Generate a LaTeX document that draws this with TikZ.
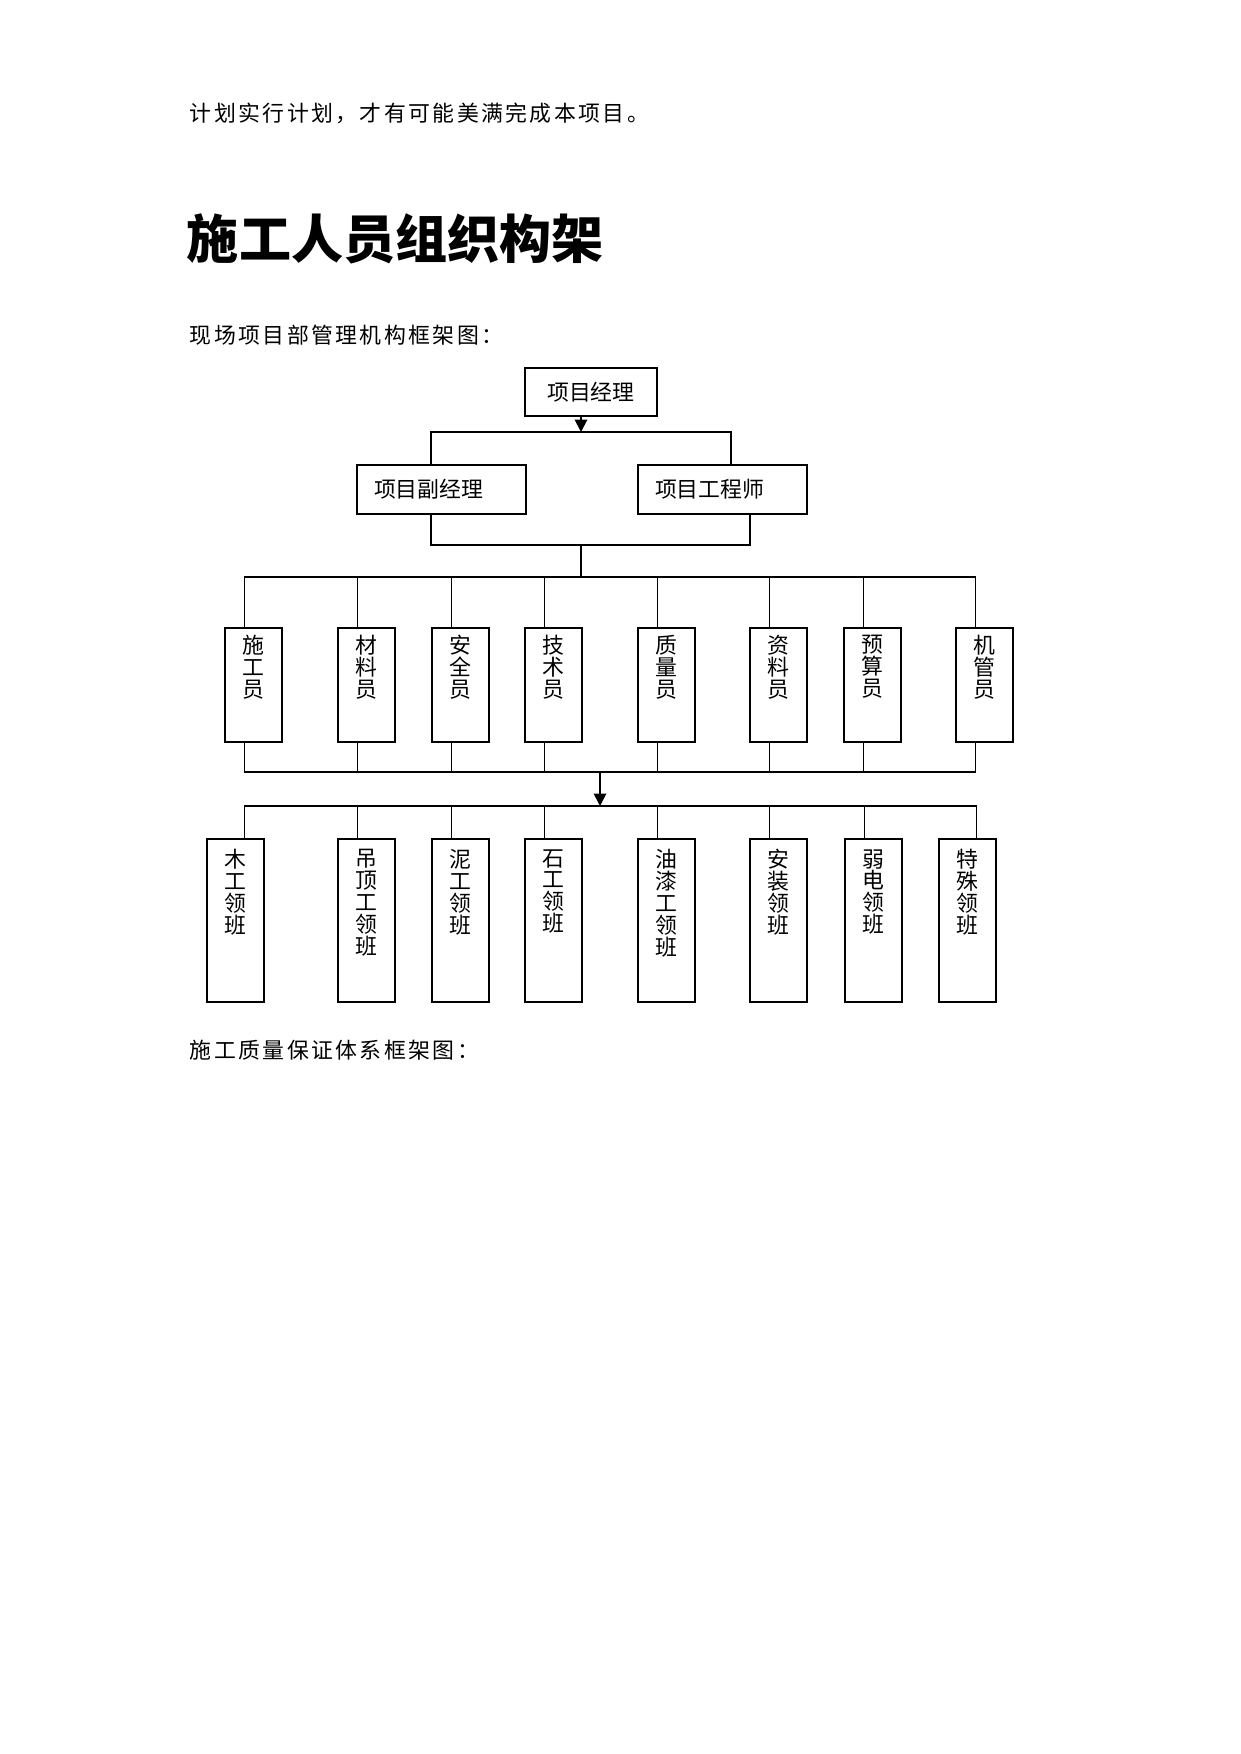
\documentclass[tikz,border=0pt]{standalone}
\usepackage{fontspec}
\newfontfamily\cjk{Noto Sans CJK SC}
\newfontfamily\txtfont{Noto Sans CJK SC}[LetterSpace=11]
\usetikzlibrary{positioning,arrows.meta}
\begin{document}
\begin{tikzpicture}[x=0.48pt,y=-0.48pt,line width=0.9pt,
    every node/.style={font=\cjk\fontsize{10.5}{10.5}\selectfont},
    para/.style={anchor=west,inner sep=0pt,font=\txtfont\fontsize{10.5}{12}\selectfont},
    head/.style={draw,minimum width=63.4pt,minimum height=23pt,anchor=north west},
    mgr/.style={draw,text width=64.7pt,inner xsep=8.2pt,minimum height=23.5pt,align=left,anchor=north west},
    post/.style={draw,minimum width=27.4pt,minimum height=54.7pt,anchor=north west},
    crew/.style={post,minimum height=78.2pt},
    vtxt/.style={align=center,inner sep=0pt},
    arr/.style={-{Triangle[length=6pt,width=6pt]}},
    faint/.style={line width=0.45pt}]
    \useasboundingbox (0,0) rectangle (1241,1754);
    % texts of the page
    \node[para] (intro) at (189,113) {计划实行计划，才有可能美满完成本项目。};
    \node[para,font=\cjk\bfseries\fontsize{25}{30}\selectfont] (title) at (186,239) {施工人员组织构架};
    \node[para] (cap1) at (189,335) {现场项目部管理机构框架图：};
    \node[para] (cap2) at (189,1050) {施工质量保证体系框架图：};

    % heads
    \node[head] (pm) at (524,367) {项目经理};
    \node[mgr] (dpm) at (356,464) {项目副经理};
    \node[mgr] (pe) at (637,464) {项目工程师};

    % posts
    \node[post] (sgy) at (224,627) {};
    \node[vtxt,below=3.5pt of sgy.north] (sgy-t) {施\\工\\员};
    \node[post] (cly) at (337,627) {};
    \node[vtxt,below=3.5pt of cly.north] (cly-t) {材\\料\\员};
    \node[post] (aqy) at (431,627) {};
    \node[vtxt,below=3.5pt of aqy.north] (aqy-t) {安\\全\\员};
    \node[post] (jsy) at (524,627) {};
    \node[vtxt,below=3.5pt of jsy.north] (jsy-t) {技\\术\\员};
    \node[post] (zly) at (637,627) {};
    \node[vtxt,below=3.5pt of zly.north] (zly-t) {质\\量\\员};
    \node[post] (zky) at (749,627) {};
    \node[vtxt,below=3.5pt of zky.north] (zky-t) {资\\料\\员};
    \node[post] (ysy) at (843,627) {};
    \node[vtxt,below=3.5pt of ysy.north] (ysy-t) {预\\算\\员};
    \node[post] (jgy) at (955,627) {};
    \node[vtxt,below=3.5pt of jgy.north] (jgy-t) {机\\管\\员};

    % crews
    \node[crew] (mg) at (206,838) {};
    \node[vtxt,below=5pt of mg.north] (mg-t) {木\\工\\领\\班};
    \node[crew] (dd) at (337,838) {};
    \node[vtxt,below=5pt of dd.north] (dd-t) {吊\\顶\\工\\领\\班};
    \node[crew] (ng) at (431,838) {};
    \node[vtxt,below=5pt of ng.north] (ng-t) {泥\\工\\领\\班};
    \node[crew] (sg) at (524,838) {};
    \node[vtxt,below=5pt of sg.north] (sg-t) {石\\工\\领\\班};
    \node[crew] (yq) at (637,838) {};
    \node[vtxt,below=5pt of yq.north] (yq-t) {油\\漆\\工\\领\\班};
    \node[crew] (az) at (749,838) {};
    \node[vtxt,below=5pt of az.north] (az-t) {安\\装\\领\\班};
    \node[crew] (rd) at (844,838) {};
    \node[vtxt,below=5pt of rd.north] (rd-t) {弱\\电\\领\\班};
    \node[crew] (ts) at (938,838) {};
    \node[vtxt,below=5pt of ts.north] (ts-t) {特\\殊\\领\\班};

    % bars
    \coordinate (b1l) at (431,432);
    \coordinate (b1r) at (731,432);
    \coordinate (b2m) at (581,545);
    \coordinate (b2r) at (750,545);
    \coordinate (r1m) at (581,577);
    \coordinate (r1n) at (600,772);
    \coordinate (r2m) at (600,806);

    \draw[arr] (pm.south -| b2m) -- (b1l -| b2m);
    \draw (dpm.north -| b1l) |- (b1r) -- (pe.north -| b1r);
    \draw (dpm.south -| b1l) |- (b2r) -- (pe.south -| b2r);
    \draw (b2m) -- (r1m);

    \draw (r1m) -| ([xshift=-4.3pt]sgy.north) ([xshift=-4.3pt]sgy.south) |- (r1n);
    \draw (r1m) -| ([xshift=-4.3pt]cly.north) ([xshift=-4.3pt]cly.south) |- (r1n);
    \draw (r1m) -| ([xshift=-4.3pt]aqy.north) ([xshift=-4.3pt]aqy.south) |- (r1n);
    \draw (r1m) -| ([xshift=-4.3pt]jsy.north) ([xshift=-4.3pt]jsy.south) |- (r1n);
    \draw (r1m) -| ([xshift=-4.3pt]zly.north) ([xshift=-4.3pt]zly.south) |- (r1n);
    \draw (r1m) -| ([xshift=-4.3pt]zky.north) ([xshift=-4.3pt]zky.south) |- (r1n);
    \draw[faint] (r1m) -| ([xshift=-4.3pt]ysy.north) ([xshift=-4.3pt]ysy.south) |- (r1n);
    \draw (r1m) -| ([xshift=-4.3pt]jgy.north) ([xshift=-4.3pt]jgy.south) |- (r1n);

    \draw[arr] (r1n) -- (r2m);
    \draw (r2m) -| ([xshift=4.3pt]mg.north);
    \draw (r2m) -| ([xshift=-4.3pt]dd.north);
    \draw (r2m) -| ([xshift=-4.3pt]ng.north);
    \draw (r2m) -| ([xshift=-4.3pt]sg.north);
    \draw (r2m) -| ([xshift=-4.3pt]yq.north);
    \draw (r2m) -| ([xshift=-4.3pt]az.north);
    \draw[faint] (r2m) -| ([xshift=-4.3pt]rd.north);
    \draw (r2m) -| ([xshift=4.3pt]ts.north);
\end{tikzpicture}
\end{document}
